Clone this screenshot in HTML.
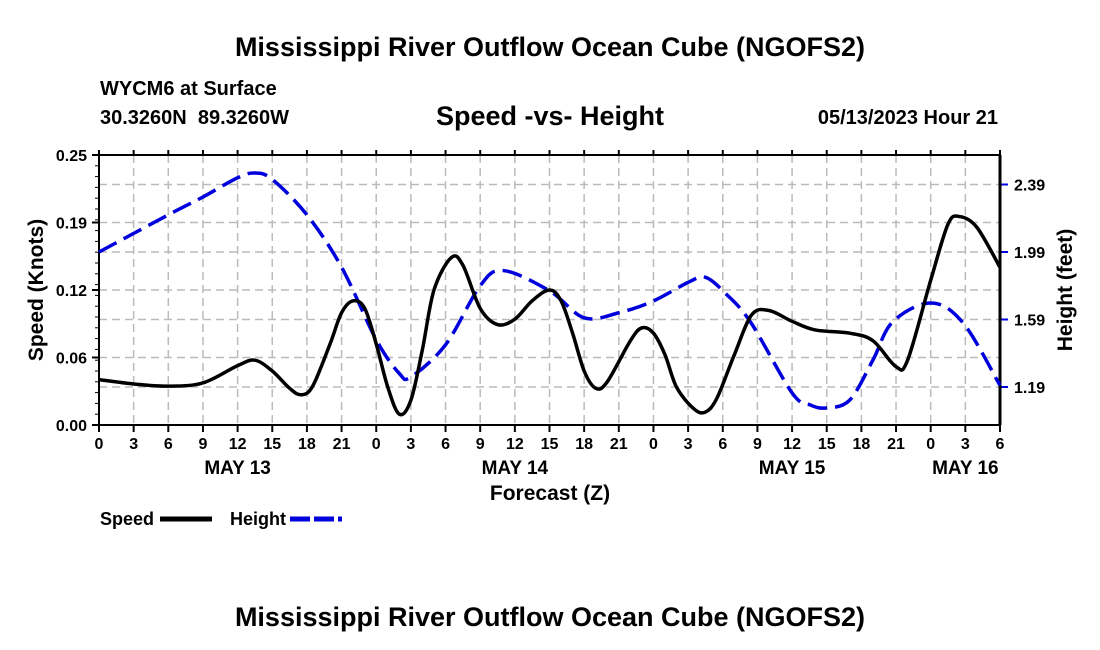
<!DOCTYPE html>
<html><head><meta charset="utf-8"><style>
body{margin:0;background:#fff;}
svg{display:block;font-family:"Liberation Sans",Arial,sans-serif;font-weight:bold;}
</style></head><body>
<svg id="chart" width="1100" height="650" viewBox="0 0 1100 650">
<text x="550" y="56" font-size="27" text-anchor="middle">Mississippi River Outflow Ocean Cube (NGOFS2)</text>
<text x="100" y="95" font-size="20">WYCM6 at Surface</text>
<text x="100" y="124" font-size="20" xml:space="preserve">30.3260N  89.3260W</text>
<text x="550" y="125" font-size="27" text-anchor="middle">Speed -vs- Height</text>
<text x="998" y="124" font-size="20" text-anchor="end">05/13/2023 Hour 21</text>
<g id="grid"></g>
<g id="axes"></g>
<g id="series"></g>
<text x="550" y="500" font-size="21" text-anchor="middle">Forecast (Z)</text>
<text transform="translate(43,290) rotate(-90)" font-size="21" text-anchor="middle">Speed (Knots)</text>
<text transform="translate(1072,290) rotate(-90)" font-size="21" text-anchor="middle">Height (feet)</text>
<g>
<text x="100" y="525" font-size="18">Speed</text>
<line x1="160" y1="519" x2="212" y2="519" stroke="#000" stroke-width="5"/>
<text x="230" y="525" font-size="18">Height</text>
<line x1="290" y1="519" x2="342" y2="519" stroke="#0000dd" stroke-width="5" stroke-dasharray="20 4"/>
</g>
<text x="550" y="626" font-size="27" text-anchor="middle">Mississippi River Outflow Ocean Cube (NGOFS2)</text>
</svg>
<script>
const speedHours=[0,3,6,9,12,13.5,15,16.5,17.5,18.5,20,21,22,23,24,25,26,27,28,29,30.5,31.5,33,34.5,36,37.5,39,40,41,42,43,44,46,47,48,49,50,51.5,52.5,53.5,55,56.5,58,60,62,65,67,69,70,72,73.5,74.5,76,78];
const speedValues=[0.042,0.038,0.036,0.039,0.055,0.060,0.050,0.034,0.028,0.036,0.075,0.104,0.115,0.108,0.075,0.035,0.010,0.023,0.070,0.125,0.155,0.148,0.108,0.093,0.098,0.115,0.125,0.115,0.085,0.050,0.034,0.040,0.078,0.090,0.085,0.065,0.035,0.015,0.012,0.025,0.065,0.102,0.106,0.096,0.088,0.085,0.078,0.054,0.060,0.134,0.186,0.193,0.183,0.146];
const heightHours=[0,6,9,12,13.5,15,18,21,24,26,27,30,33,35,39,42,45,48,51,52.5,54.2,56.4,60,61.6,63,65,67,68.7,72,74.8,78];
const heightValues=[1.99,2.21,2.316,2.43,2.458,2.42,2.21,1.90,1.47,1.27,1.25,1.44,1.79,1.88,1.76,1.60,1.63,1.70,1.81,1.84,1.747,1.575,1.155,1.083,1.066,1.113,1.35,1.575,1.688,1.57,1.20];
const speedTicks=[0,0.0625,0.125,0.1875,0.25];
const speedTickLabels=["0.00","0.06","0.12","0.19","0.25"];
const heightTicks=[1.19,1.59,1.99,2.39];
const heightTickLabels=["1.19","1.59","1.99","2.39"];
const dayLabels=["MAY 13","MAY 14","MAY 15","MAY 16"];
const dayLabelHours=[12,36,60,75];

const L=99,R=1000,T=155,B=425,HMAX=78;
const NS="http://www.w3.org/2000/svg";
const xS=h=>L+(R-L)*h/HMAX;
const yS=v=>B-(B-T)*v/0.25;
const yH=f=>387-(f-1.19)/0.4*67.5;
function mk(tag,attrs,parent){const e=document.createElementNS(NS,tag);for(const k in attrs)e.setAttribute(k,attrs[k]);parent.appendChild(e);return e;}
const grid=document.getElementById('grid'),axes=document.getElementById('axes'),series=document.getElementById('series');
for(let h=0;h<=HMAX;h+=3){
  const x=xS(h);
  const g=mk('line',{x1:x,y1:T,x2:x,y2:B,stroke:'#bbb','stroke-width':1.5,'stroke-dasharray':'8 5'},grid);
  
  
  const tk=mk('line',{x1:x,y1:B,x2:x,y2:B+7,stroke:'#000','stroke-width':2},axes);
  
  
  const tt=mk('line',{x1:x,y1:T,x2:x,y2:T-5,stroke:'#000','stroke-width':2},axes);
  
  
  const t=mk('text',{x:x,y:B+24,'font-size':16,'text-anchor':'middle'},axes);
  t.textContent=String(h%24);
  
  
}
dayLabels.forEach((d,i)=>{const t=mk('text',{x:xS(dayLabelHours[i]),y:474,'font-size':19,'text-anchor':'middle'},axes);t.textContent=d;

});
speedTicks.forEach((v,i)=>{const y=yS(v);
  if(i>0&&i<speedTicks.length-1){const g=mk('line',{x1:L,y1:y,x2:R,y2:y,stroke:'#bbb','stroke-width':1.5,'stroke-dasharray':'8 5'},grid);
  
  }
  const tk=mk('line',{x1:L-7,y1:y,x2:L,y2:y,stroke:'#000','stroke-width':2},axes);
  
  
  const t=mk('text',{x:L-12,y:y+6,'font-size':16,'text-anchor':'end'},axes);t.textContent=speedTickLabels[i];
  
  });
heightTicks.forEach((f,i)=>{const y=yH(f);
  const g=mk('line',{x1:L,y1:y,x2:R,y2:y,stroke:'#bbb','stroke-width':1.5,'stroke-dasharray':'8 5'},grid);
  
  
  const tk=mk('line',{x1:R,y1:y,x2:R+8,y2:y,stroke:'#0000dd','stroke-width':2},axes);
  
  
  const t=mk('text',{x:R+14,y:y+6,'font-size':16},axes);t.textContent=heightTickLabels[i];
  
  });
for(let k=1;k<25;k++){const y=B-(B-T)*k/25;const m=mk('line',{x1:L-4,y1:y,x2:L,y2:y,stroke:'#000','stroke-width':1},axes);

}
const fr=mk('rect',{x:L,y:T,width:R-L,height:B-T,fill:'none',stroke:'#000','stroke-width':2},axes);


const rl=mk('line',{x1:R,y1:T,x2:R,y2:B,stroke:'#000','stroke-width':3},axes);


function smooth(pts){let d=`M${pts[0][0]},${pts[0][1]}`;
  for(let i=0;i<pts.length-1;i++){const p0=pts[Math.max(0,i-1)],p1=pts[i],p2=pts[i+1],p3=pts[Math.min(pts.length-1,i+2)];
    const c1=[p1[0]+(p2[0]-p0[0])/6,p1[1]+(p2[1]-p0[1])/6],c2=[p2[0]-(p3[0]-p1[0])/6,p2[1]-(p3[1]-p1[1])/6];
    d+=` C${c1[0]},${c1[1]} ${c2[0]},${c2[1]} ${p2[0]},${p2[1]}`;}
  return d;}
const hp=mk('path',{d:smooth(heightHours.map((h,i)=>[xS(h),yH(heightValues[i])])),fill:'none',stroke:'#0000dd','stroke-width':3.5,'stroke-dasharray':'20 8'},series);


const sp=mk('path',{d:smooth(speedHours.map((h,i)=>[xS(h),yS(speedValues[i])])),fill:'none',stroke:'#000','stroke-width':3.5},series);


</script>
</body></html>
